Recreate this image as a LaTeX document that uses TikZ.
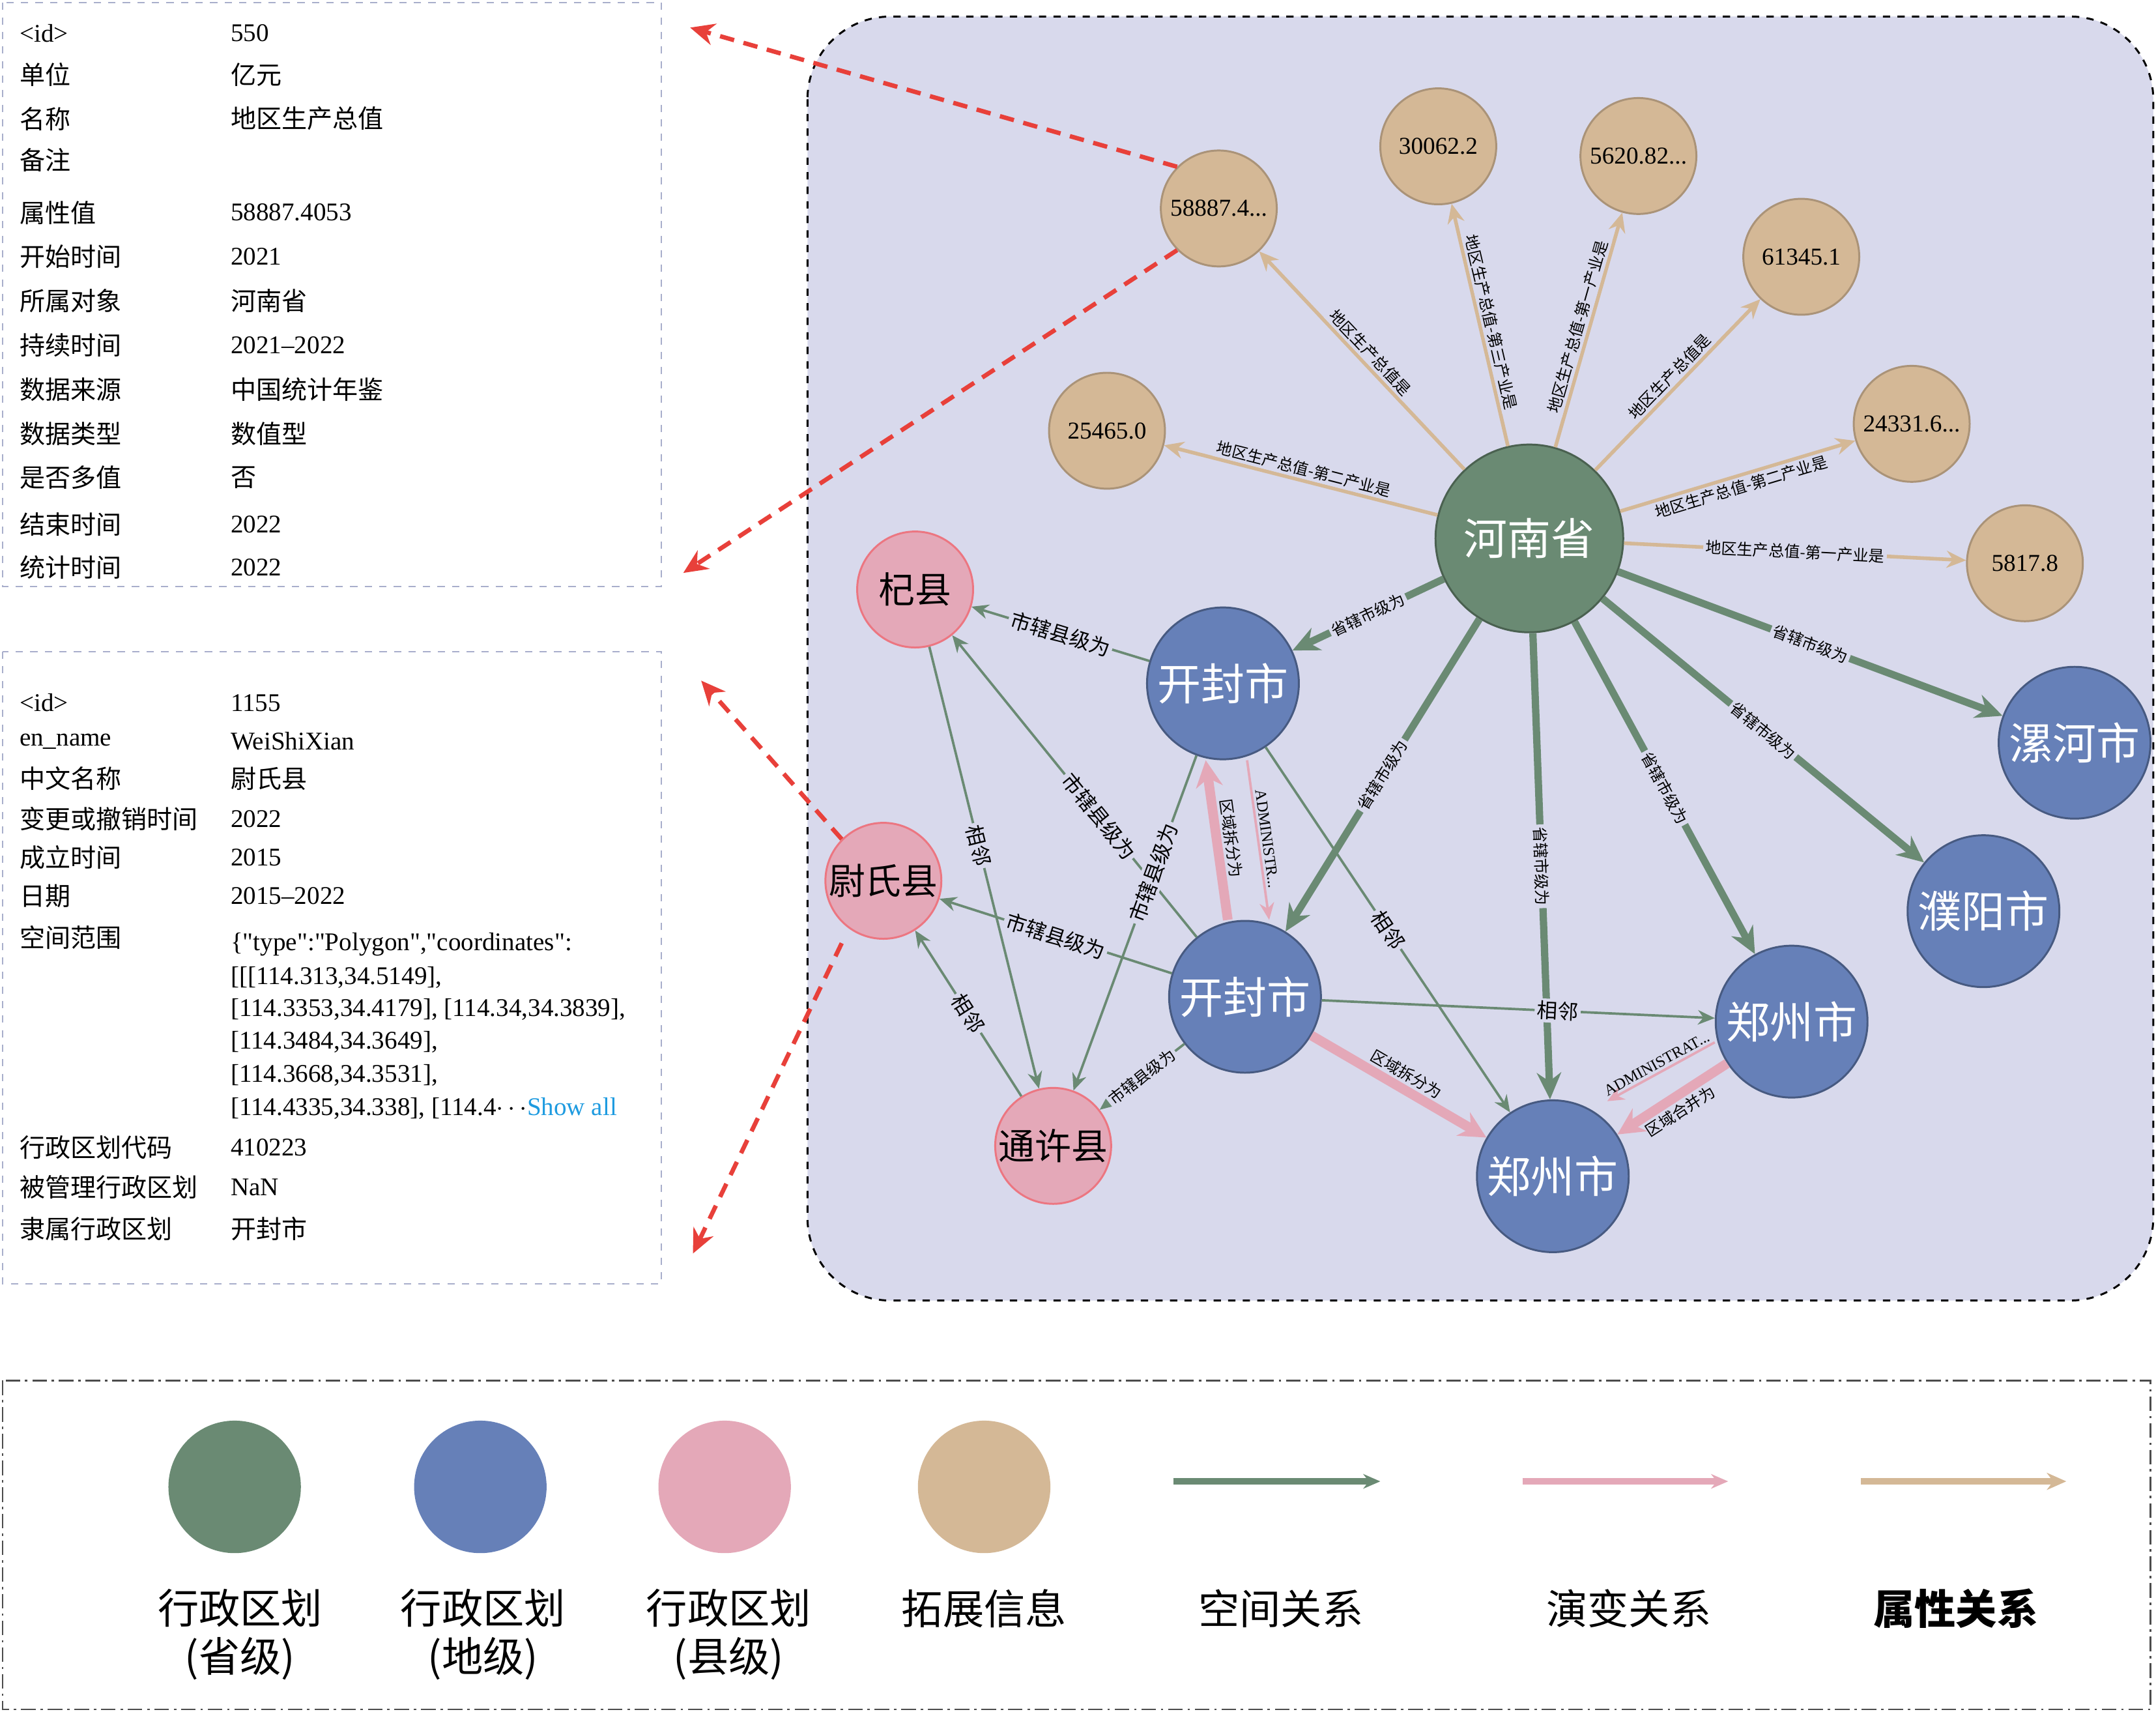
\documentclass[tikz,border=0pt]{standalone}
\usepackage{fontspec}
\setmainfont{Noto Sans CJK SC}
\newfontfamily\lat[Ligatures=TeX]{Liberation Serif}
\newfontfamily\latn{Liberation Serif}
\usetikzlibrary{arrows.meta}
\definecolor{gr}{HTML}{6A8A73}
\definecolor{bl}{HTML}{6680B8}
\definecolor{pk}{HTML}{E4A8B8}
\definecolor{tn}{HTML}{D4B896}
\definecolor{bg}{HTML}{D8D9EC}
\definecolor{rd}{HTML}{E8403A}
\definecolor{pn}{HTML}{A8AECB}
\tikzset{
 c/.style={circle,inner sep=0pt,draw,line width=0.8pt},
 prov/.style={c,fill=gr,draw=gr!70!black,minimum size=2.72cm,font=\fontsize{18}{18}\selectfont,text=white},
 city/.style={c,fill=bl,draw=bl!70!black,minimum size=2.2cm,font=\fontsize{18}{18}\selectfont,text=white},
 cnty/.style={c,fill=pk,draw=pk!70!red,minimum size=1.68cm,font=\fontsize{15}{15}\selectfont},
 ext/.style={c,fill=tn,draw=tn!80!black,minimum size=1.68cm,font=\lat\fontsize{10}{10}\selectfont},
 sp/.style={draw=gr,line width=1pt,-{Stealth[length=7pt,width=6pt]}},
 spt/.style={draw=gr,line width=3pt,-{Stealth[length=11pt,width=10pt]}},
 ev/.style={draw=pk,line width=4pt,-{Stealth[length=11pt,width=11pt]}},
 evt/.style={draw=pk,line width=1pt,-{Stealth[length=7pt,width=6pt]}},
 atr/.style={draw=tn,line width=1.5pt,-{Stealth[length=8pt,width=7pt]}},
 lab/.style={midway,sloped,font=\fontsize{6.5}{7}\selectfont,inner sep=1pt,fill=bg},
 labb/.style={midway,sloped,font=\fontsize{8.5}{9}\selectfont,inner sep=1pt,fill=bg},
 rdash/.style={draw=rd,line width=1.8pt,dash pattern=on 6pt off 4pt,-{Stealth[length=10pt,width=9pt]}},
 k/.style={anchor=west,font=\fontsize{10.5}{11}\selectfont},
 kl/.style={anchor=west,font=\lat\fontsize{10.5}{11}\selectfont},
 lg/.style={font=\fontsize{17}{20}\selectfont,align=center},
}
\begin{document}
\begin{tikzpicture}[x=0.02cm,y=-0.02cm]
\useasboundingbox (0,0) rectangle (1562,1240);
\fill[white] (0,0) rectangle (1562,1240);
% panels
\draw[dashed,rounded corners=1.2cm,fill=bg,line width=0.8pt] (585,12) rectangle (1560,942);
\draw[pn,dashed,line width=0.6pt] (2,2) rectangle (479,425);
\draw[pn,dashed,line width=0.6pt] (2,472) rectangle (479,930);
\draw[black!70,dash pattern=on 6pt off 2pt on 1pt off 2pt,line width=0.6pt] (2,1000) rectangle (1558,1238);
% nodes
\node[prov] (hn) at (1108,390) {河南省};
\node[city] (kf1) at (886,495) {开封市};
\node[city] (kf2) at (902,722) {开封市};
\node[city] (zz1) at (1298,740) {郑州市};
\node[city] (zz2) at (1125,852) {郑州市};
\node[city] (lh) at (1503,538) {漯河市};
\node[city] (py) at (1437,660) {濮阳市};
\node[cnty] (qx) at (663,427) {杞县};
\node[cnty] (ws) at (640,638) {尉氏县};
\node[cnty] (tx) at (763,830) {通许县};
\node[ext] (t1) at (883,151) {58887.4...};
\node[ext] (t2) at (1042,106) {30062.2};
\node[ext] (t3) at (1187,113) {5620.82...};
\node[ext] (t4) at (1305,186) {61345.1};
\node[ext] (t5) at (802,312) {25465.0};
\node[ext] (t6) at (1385,307) {24331.6...};
\node[ext] (t7) at (1467,408) {5817.8};
% attribute edges
\draw[atr] (hn) -- (t1) node[lab,above] {地区生产总值是};
\draw[atr] (hn) -- (t2) node[lab,above] {地区生产总值-第三产业是};
\draw[atr] (hn) -- (t3) node[lab,above] {地区生产总值-第一产业是};
\draw[atr] (hn) -- (t4) node[lab,above] {地区生产总值是};
\draw[atr] (hn) -- (t5) node[lab,above] {地区生产总值-第二产业是};
\draw[atr] (hn) -- (t6) node[lab,below] {地区生产总值-第二产业是};
\draw[atr] (hn) -- (t7) node[lab] {地区生产总值-第一产业是};
% spatial
\draw[spt] (hn) -- (kf1) node[lab] {省辖市级为};
\draw[spt] (hn) -- (kf2) node[lab] {省辖市级为};
\draw[spt] (hn) -- (zz2) node[lab] {省辖市级为};
\draw[spt] (hn) -- (zz1) node[lab] {省辖市级为};
\draw[spt] (hn) -- (py) node[lab] {省辖市级为};
\draw[spt] (hn) -- (lh) node[lab] {省辖市级为};
\draw[sp] (kf1) -- (qx) node[labb] {市辖县级为};
\draw[sp] (kf2) -- (qx) node[labb,pos=0.4] {市辖县级为};
\draw[sp] (kf2) -- (ws) node[labb] {市辖县级为};
\draw[sp] (kf2) -- (tx) node[lab] {市辖县级为};
\draw[sp] (kf1) -- (tx) node[labb,pos=0.35] {市辖县级为};
\draw[sp] (qx) -- (tx) node[labb,pos=0.45] {相邻};
\draw[sp] (tx) -- (ws) node[labb] {相邻};
\draw[sp] (kf1) -- (zz2) node[labb] {相邻};
\draw[sp] (kf2) -- (zz1) node[labb,pos=0.6] {相邻};
% evolution
\draw[ev] ([xshift=-0.25cm]kf2.north) -- ([xshift=-0.25cm]kf1.south) node[lab,fill=none,above] {区域拆分为};
\draw[evt] ([xshift=0.35cm]kf1.south) -- ([xshift=0.35cm]kf2.north) node[lab,fill=none,above] {\lat ADMINISTR...};
\draw[ev] (kf2) -- (zz2) node[lab,above,fill=none] {区域拆分为};
\draw[ev] (zz1) -- (zz2) node[lab,below,fill=none] {区域合并为};
\draw[evt] ([yshift=-0.3cm]zz1.west) -- ([yshift=0.3cm]zz2.north east) node[lab,above,fill=none] {\lat ADMINISTRAT...};
% red dashed
\coordinate (r1) at (500,20);
\coordinate (r2) at (495,415);
\coordinate (r3) at (508,493);
\coordinate (r4) at (502,908);
\draw[rdash] (t1.north west) -- (r1);
\draw[rdash] (t1.south west) -- (r2);
\draw[rdash] (ws.north west) -- (r3);
\draw[rdash] ([yshift=-0.3cm]ws.south west) -- (r4);
% panel 1 text
\foreach \y/\a/\b in {24/\lat <id>/\lat 550,54/单位/亿元,86/名称/地区生产总值,116/备注/,154/属性值/\lat 58887.4053,186/开始时间/\lat 2021,218/所属对象/河南省,250/持续时间/\lat 2021--2022,282/数据来源/中国统计年鉴,314/数据类型/数值型,346/是否多值/否,380/结束时间/\lat 2022,411/统计时间/\lat 2022}{
 \node[k] at (8,\y) {\a}; \node[k] at (161,\y) {\b};}
% panel 2 text
\foreach \y/\a/\b in {509/\lat <id>/\lat 1155,537/\lat en\_name/\lat WeiShiXian,564/中文名称/尉氏县,593/变更或撤销时间/\lat 2022,621/成立时间/\lat 2015,649/日期/\lat 2015--2022,679/空间范围/,831/行政区划代码/\lat 410223,860/被管理行政区划/\lat NaN,890/隶属行政区划/开封市}{
 \node[k] at (8,\y) {\a}; \node[k] at (161,\y) {\b};}
\node[kl,font=\latn\fontsize{10.5}{11}\selectfont] at (161,684) {\{"type":"Polygon","coordinates":};
\node[kl] at (161,708) {[[[114.313,34.5149],};
\node[kl] at (161,731) {[114.3353,34.4179], [114.34,34.3839],};
\node[kl] at (161,755) {[114.3484,34.3649],};
\node[kl] at (161,779) {[114.3668,34.3531],};
\node[kl] at (161,803) {[114.4335,34.338], [114.4$\cdots$\textcolor[HTML]{1E9BE0}{Show all}};
% legend
\node[c,fill=gr,draw=none,minimum size=1.92cm] (l1) at (170,1077) {};
\node[c,fill=bl,draw=none,minimum size=1.92cm] (l2) at (348,1077) {};
\node[c,fill=pk,draw=none,minimum size=1.92cm] (l3) at (525,1077) {};
\node[c,fill=tn,draw=none,minimum size=1.92cm] (l4) at (713,1077) {};
\node[lg] at (174,1184) {行政区划\\(省级)};
\node[lg] at (350,1184) {行政区划\\(地级)};
\node[lg] at (528,1184) {行政区划\\(县级)};
\node[lg] at (713,1165) {拓展信息};
\coordinate (a1) at (850,1073); \coordinate (a2) at (1000,1073);
\coordinate (b1) at (1103,1073); \coordinate (b2) at (1252,1073);
\coordinate (c1) at (1348,1073); \coordinate (c2) at (1497,1073);
\draw[sp,line width=2.5pt] (a1) -- (a2);
\draw[evt,line width=2.5pt] (b1) -- (b2);
\draw[atr,line width=2.5pt] (c1) -- (c2);
\node[lg] at (928,1165) {空间关系};
\node[lg] at (1180,1165) {演变关系};
\node[lg,font=\bfseries\fontsize{17}{20}\selectfont] at (1417,1165) {属性关系};
\end{tikzpicture}
\end{document}
